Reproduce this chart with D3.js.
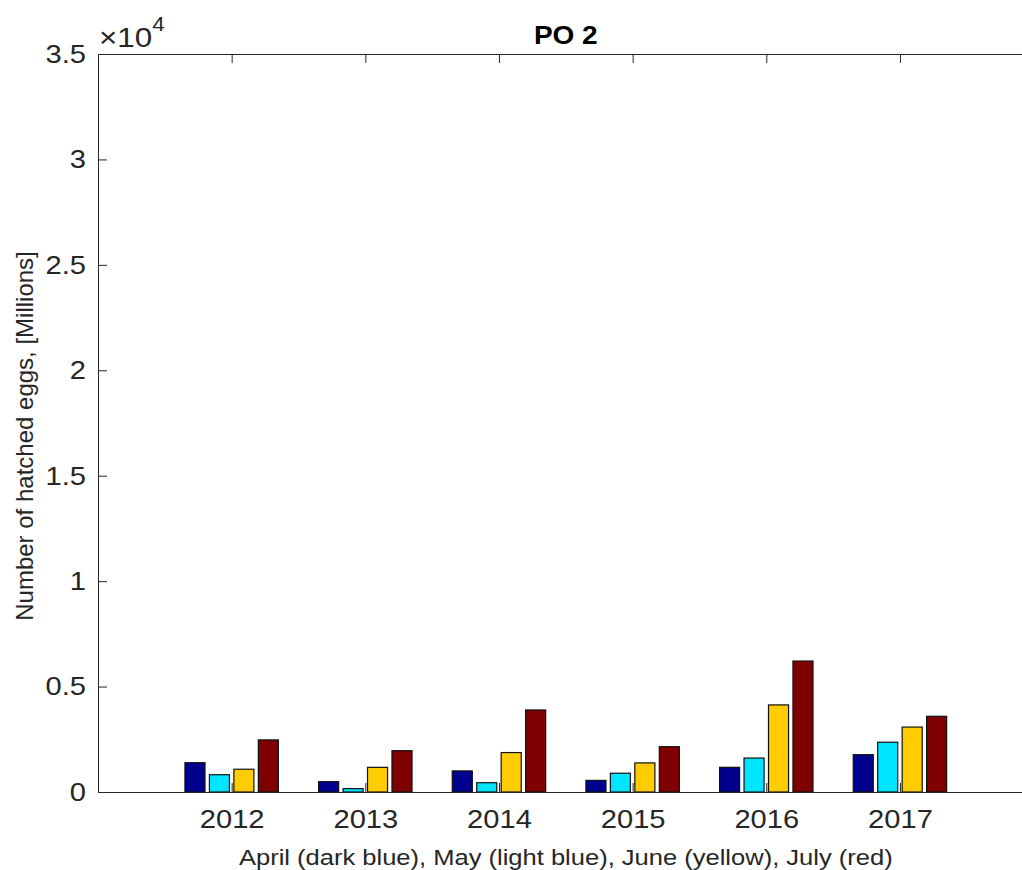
<!DOCTYPE html>
<html>
<head>
<meta charset="utf-8">
<script src="https://cdn.jsdelivr.net/npm/d3@7"></script>
<style>
  body { margin: 0; background: #fff; }
  svg { display: block; font-family: "Liberation Sans", Arial, sans-serif; }
  .axis text { fill: #262626; }
  .axis path, .axis line { stroke: #262626; }
</style>
</head>
<body>
<svg id="chart"></svg>
<script>
// values (hatched eggs, millions)
const years = [2012, 2013, 2014, 2015, 2016, 2017];
const months = ['April', 'May', 'June', 'July'];
const april = [1390, 490, 1000, 550, 1170, 1770];
const may = [820, 160, 440, 890, 1610, 2360];
const june = [1080, 1170, 1870, 1380, 4130, 3080];
const july = [2470, 1960, 3890, 2150, 6210, 3590];
const yTicks = [0, 5000, 10000, 15000, 20000, 25000, 30000, 35000];
const colors = ['#00008f', '#00e5ff', '#ffcc00', '#7f0000'];

const series = [april, may, june, july];

const W = 1022, H = 870;
const margin = { top: 54, left: 98 };
const plotW = 935.6, plotH = 738;
const sx = 1.12; // text in the original is a bit wider than Liberation Sans

const svg = d3.select('#chart').attr('width', W).attr('height', H);
const g = svg.append('g').attr('transform', `translate(${margin.left},${margin.top})`);

const x = d3.scaleLinear().domain([2011, 2018]).range([0, plotW]);
const y = d3.scaleLinear().domain([0, 35000]).range([plotH, 0]);

// bars, grouped per year
const step = 0.183, barW = 0.15;
series.forEach((vals, i) => {
  const off = (i - 1.5) * step;
  g.selectAll('.bar' + i)
    .data(vals.map((v, j) => ({ year: years[j], value: v })))
    .enter()
    .append('rect')
    .attr('class', 'bar' + i)
    .attr('x', d => x(d.year + off - barW / 2))
    .attr('width', x(2011 + barW) - x(2011))
    .attr('y', d => y(d.value))
    .attr('height', d => y(0) - y(d.value))
    .attr('fill', colors[i])
    .attr('stroke', '#111')
    .attr('stroke-width', 1.2);
});

// axes
const xAxis = g.append('g').attr('class', 'axis')
  .attr('transform', `translate(0,${plotH})`)
  .call(d3.axisBottom(x).tickValues(years).tickFormat(d3.format('d'))
    .tickSizeInner(-9).tickSizeOuter(0).tickPadding(18));
xAxis.selectAll('text').style('font-size', '26px')
  .attr('transform', `scale(${sx},1)`);

g.append('g').attr('class', 'axis')
  .call(d3.axisTop(x).tickValues(years).tickFormat('')
    .tickSizeInner(-9).tickSizeOuter(0));

const yAxis = g.append('g').attr('class', 'axis')
  .call(d3.axisLeft(y).tickValues(yTicks).tickFormat(d => d / 1e4)
    .tickSizeInner(-9).tickSizeOuter(0).tickPadding(12));
yAxis.selectAll('text').style('font-size', '26px')
  .attr('x', -12 / sx)
  .attr('transform', `scale(${sx},1)`);

// exponent
const expo = svg.append('text')
  .attr('transform', `translate(99,47) scale(${sx},1)`)
  .attr('fill', '#262626').style('font-size', '28px');
expo.append('tspan').text('\u00d710');
expo.append('tspan').attr('dy', -16).style('font-size', '20px').text('4');

// title
svg.append('text')
  .attr('transform', `translate(${margin.left + plotW / 2},44) scale(${sx},1)`)
  .attr('text-anchor', 'middle').attr('fill', '#000')
  .style('font-size', '25px').style('font-weight', 'bold')
  .text('PO 2');

// x label
svg.append('text')
  .attr('transform', `translate(${margin.left + plotW / 2},865) scale(${sx},1)`)
  .attr('text-anchor', 'middle').attr('fill', '#262626')
  .style('font-size', '22.8px')
  .text('April (dark blue), May (light blue), June (yellow), July (red)');

// y label
svg.append('text')
  .attr('transform', `translate(33,436) rotate(-90)`)
  .attr('text-anchor', 'middle').attr('fill', '#262626')
  .style('font-size', '24px')
  .text('Number of hatched eggs, [Millions]');
</script>
</body>
</html>
